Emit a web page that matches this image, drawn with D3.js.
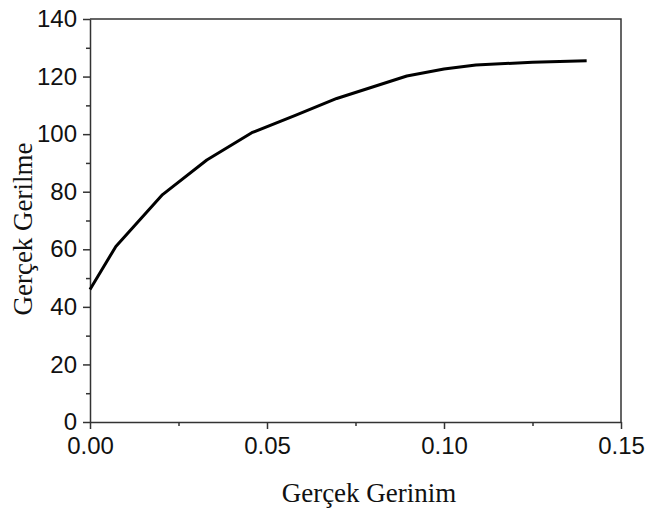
<!DOCTYPE html>
<html>
<head>
<meta charset="utf-8">
<script src="https://cdn.jsdelivr.net/npm/d3@7"></script>
<style>
  body { margin: 0; background: #fff; }
  svg { display: block; }
</style>
</head>
<body>
<script>
// Data
const strain = [0, 0.0073, 0.0205, 0.033, 0.0457, 0.058, 0.0697, 0.0895, 0.1, 0.109, 0.125, 0.1403];
const stress = [46, 61, 79, 91, 100.5, 106.5, 112.4, 120.2, 122.6, 124, 125, 125.5];
const xTicks = [0, 0.05, 0.10, 0.15];
const yTicks = [0, 20, 40, 60, 80, 100, 120, 140];
const xLabel = "Gerçek Gerinim";
const yLabel = "Gerçek Gerilme";

const W = 646, H = 513;
const svg = d3.select("body").append("svg").attr("width", W).attr("height", H);

const x = d3.scaleLinear().domain([0, 0.15]).range([90, 621]);
const y = d3.scaleLinear().domain([0, 140]).range([422, 19]);

const axisColor = "#333";
const tickFont = "Liberation Sans, Arial, sans-serif";

// Frame (top and right)
svg.append("path")
  .attr("d", `M${x(0)},${y(140)}H${x(0.15)}V${y(0)}`)
  .attr("fill", "none").attr("stroke", axisColor).attr("stroke-width", 1.5);

// Minor ticks
const xMinor = d3.range(0.025, 0.15, 0.05);
const yMinor = d3.range(10, 140, 20);
svg.append("g").attr("transform", `translate(0,${y(0)})`)
  .call(d3.axisBottom(x).tickValues(xMinor).tickSize(4).tickFormat(""))
  .call(g => g.select(".domain").remove())
  .call(g => g.selectAll("line").attr("stroke", axisColor).attr("stroke-width", 1.5));
svg.append("g").attr("transform", `translate(${x(0)},0)`)
  .call(d3.axisLeft(y).tickValues(yMinor).tickSize(4).tickFormat(""))
  .call(g => g.select(".domain").remove())
  .call(g => g.selectAll("line").attr("stroke", axisColor).attr("stroke-width", 1.5));

// Major axes
const xAxis = svg.append("g").attr("transform", `translate(0,${y(0)})`)
  .call(d3.axisBottom(x).tickValues(xTicks).tickSize(7).tickSizeOuter(0).tickPadding(8).tickFormat(d3.format(".2f")));
const yAxis = svg.append("g").attr("transform", `translate(${x(0)},0)`)
  .call(d3.axisLeft(y).tickValues(yTicks).tickSize(7).tickSizeOuter(0).tickPadding(6).tickFormat(d3.format("d")));
[xAxis, yAxis].forEach(a => {
  a.select(".domain").attr("stroke", axisColor).attr("stroke-width", 1.5);
  a.selectAll("line").attr("stroke", axisColor).attr("stroke-width", 1.5);
  a.selectAll("text").attr("fill", "#111").style("font-family", tickFont).style("font-size", "24px");
});

// Curve
const pts = strain.map((s, i) => [s, stress[i]]);
svg.append("path")
  .datum(pts)
  .attr("d", d3.line().x(d => x(d[0])).y(d => y(d[1])))
  .attr("fill", "none").attr("stroke", "#000").attr("stroke-width", 3)
  .attr("stroke-linejoin", "round");

// Labels
const labelFont = "Liberation Serif, 'Times New Roman', serif";
svg.append("text")
  .attr("x", 369).attr("y", 501.5)
  .attr("text-anchor", "middle")
  .style("font-family", labelFont).style("font-size", "27px").attr("fill", "#111")
  .text(xLabel);
svg.append("text")
  .attr("transform", "translate(31.5,229) rotate(-90)")
  .attr("text-anchor", "middle")
  .style("font-family", labelFont).style("font-size", "27px").attr("fill", "#111")
  .text(yLabel);
</script>
</body>
</html>
